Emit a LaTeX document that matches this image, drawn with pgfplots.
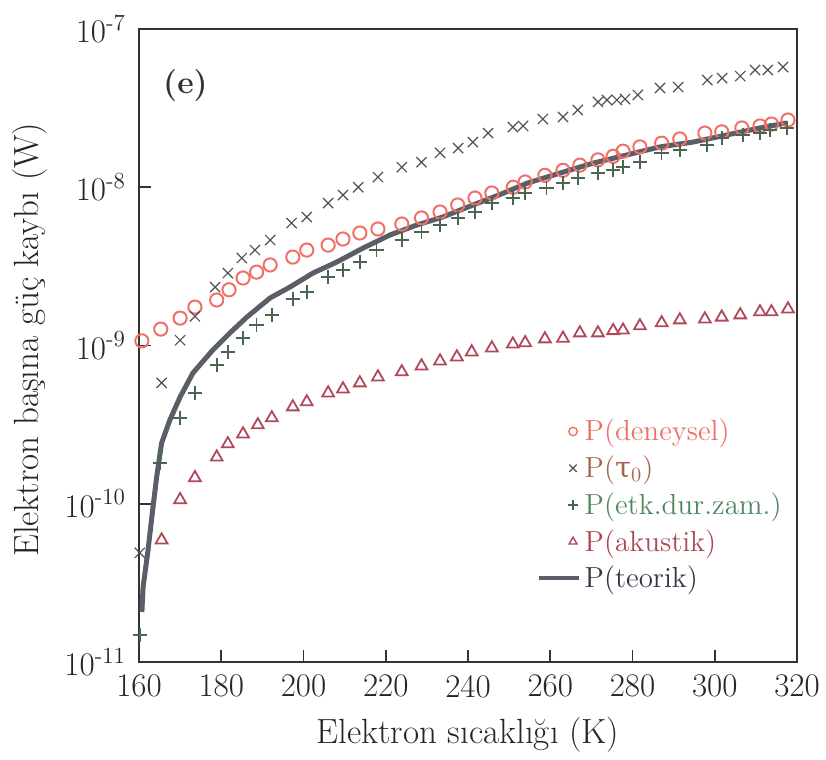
\documentclass[border=0pt]{standalone}
\usepackage{fontspec}
\newfontfamily\grk{DejaVu Serif}
\usepackage{pgfplots}
\pgfplotsset{compat=1.18}
\definecolor{cden}{HTML}{F07068}
\definecolor{ctau}{HTML}{505050}
\definecolor{cetk}{HTML}{4A6650}
\definecolor{caku}{HTML}{B04A5A}
\definecolor{cteo}{HTML}{5A5E66}
\definecolor{tden}{HTML}{EE6E64}
\definecolor{ttau}{HTML}{A8644E}
\definecolor{tetk}{HTML}{50875F}
\definecolor{taku}{HTML}{AF4655}
\definecolor{tteo}{HTML}{323746}
\pgfplotsset{
  legmarkA/.style={legend image code/.code={\draw[##1, mark size=2.1pt, line width=0.7pt] plot coordinates {(0.55cm,0cm)};}},
  legmarkB/.style={legend image code/.code={\draw[##1, mark size=2.6pt] plot coordinates {(0.55cm,0cm)};}},
  legmarkC/.style={legend image code/.code={\draw[##1, mark size=2.3pt, line width=0.7pt] plot coordinates {(0.55cm,0cm)};}},
  leglineD/.style={legend image code/.code={\draw[##1, line width=2pt] (-0.05cm,0cm) -- (0.65cm,0cm);}},
}
\begin{document}
\begin{tikzpicture}
\useasboundingbox (-69.5pt,-49pt) rectangle (343.5pt,331pt);
\begin{axis}[at={(0pt,0pt)}, anchor=south west, scale only axis,
  width=329pt, height=316.5pt,
  ymode=log, xmin=160, xmax=320, ymin=1e-11, ymax=1e-7,
  xtick={160,180,200,220,240,260,280,300,320},
  ytick={1e-11,1e-10,1e-9,1e-8,1e-7},
  yticklabels={10\textsuperscript{-11},10\textsuperscript{-10},10\textsuperscript{-9},10\textsuperscript{-8},10\textsuperscript{-7}},
  yminorticks=false,
  tick align=inside, tick pos=left, major tick length=6pt,
  axis line style={line width=1pt, color=black!80},
  every tick/.style={line width=0.8pt, black!80},
  tick label style={font=\fontsize{16.5}{19}\selectfont, color=black!85},
  /pgf/number format/assume math mode=true,
  xticklabel style={yshift=-3pt},
  yticklabel style={xshift=-3pt},
  xlabel={Elektron sıcaklığı (K)},
  ylabel={Elektron başına güç kaybı (W)},
  every axis x label/.style={at={(axis description cs:0.5,-0.115)}, anchor=center},
  every axis y label/.style={at={(axis description cs:-0.1657,0.509)}, rotate=90, anchor=center},
  label style={font=\fontsize{17.5}{20}\selectfont, color=black!85},
  legend style={at={(rel axis cs:0.595,0.397)}, anchor=north west, draw=none, fill=none,
    font=\fontsize{14.5}{18}\selectfont, row sep=2pt},
  legend cell align=left,
]
\addplot[only marks, mark=o, mark size=3.3pt, cden, line width=1pt, legmarkA]
  coordinates {
(160.7,1.07e-9) (165.3,1.27e-9) (170.0,1.49e-9) (173.6,1.75e-9) (178.9,1.94e-9)
(181.9,2.25e-9) (185.3,2.67e-9) (188.6,2.91e-9) (191.9,3.23e-9) (197.4,3.62e-9)
(200.8,4.01e-9) (206.0,4.31e-9) (209.6,4.71e-9) (213.7,5.14e-9) (218.1,5.45e-9)
(223.9,5.86e-9) (228.7,6.40e-9) (233.2,6.98e-9) (237.5,7.73e-9) (241.7,8.55e-9)
(245.8,9.2e-9) (251.0,1.00e-8) (253.9,1.08e-8) (258.7,1.19e-8) (263.1,1.28e-8)
(267.2,1.38e-8) (271.6,1.49e-8) (275.3,1.57e-8) (277.7,1.69e-8) (281.8,1.80e-8)
(287.1,1.90e-8) (291.5,2.02e-8) (297.6,2.20e-8) (301.7,2.24e-8) (306.6,2.37e-8)
(311.0,2.44e-8) (313.8,2.51e-8) (317.8,2.66e-8)
};
\addlegendentry{\textcolor{tden}{P(deneysel)}}
\addplot[only marks, mark=x, mark size=3.6pt, ctau, line width=0.6pt, legmarkB]
  coordinates {
(160.2,4.9e-11) (165.5,5.8e-10) (170.0,1.08e-9) (173.6,1.53e-9) (178.5,2.34e-9)
(181.6,2.87e-9) (185.0,3.57e-9) (188.2,4.01e-9) (191.9,4.64e-9) (197.1,5.94e-9)
(200.8,6.49e-9) (206.0,7.94e-9) (209.6,8.93e-9) (213.3,1.00e-8) (218.1,1.16e-8)
(223.9,1.34e-8) (228.7,1.44e-8) (233.2,1.65e-8) (237.6,1.77e-8) (241.2,1.93e-8)
(244.9,2.20e-8) (250.9,2.40e-8) (253.4,2.44e-8) (258.2,2.70e-8) (263.1,2.78e-8)
(266.7,3.08e-8) (271.6,3.46e-8) (273.8,3.56e-8) (276.2,3.56e-8) (278.2,3.61e-8)
(281.3,3.83e-8) (286.7,4.24e-8) (291.1,4.30e-8) (298.2,4.76e-8) (301.8,4.90e-8)
(306.2,5.04e-8) (309.8,5.51e-8) (312.9,5.51e-8) (316.6,5.75e-8)
};
\addlegendentry{\textcolor{ttau}{P({\grk τ}\textsubscript{0})}}
\addplot[only marks, mark=+, mark size=3.6pt, cetk, line width=0.8pt, legmarkB]
  coordinates {
(160.2,1.48e-11) (165.1,1.81e-10) (170.0,3.49e-10) (173.6,5.01e-10) (178.9,7.54e-10)
(181.6,9.10e-10) (185.3,1.12e-9) (188.6,1.35e-9) (192.3,1.56e-9) (197.4,1.97e-9)
(200.8,2.18e-9) (206.0,2.71e-9) (209.6,3.00e-9) (213.7,3.37e-9) (217.8,4.01e-9)
(223.9,4.64e-9) (228.7,5.21e-9) (233.2,5.77e-9) (237.6,6.40e-9) (241.7,6.98e-9)
(245.8,7.94e-9) (250.9,8.55e-9) (253.9,9.2e-9) (259.1,9.9e-9) (263.1,1.06e-8)
(266.7,1.14e-8) (271.6,1.23e-8) (275.3,1.29e-8) (277.7,1.34e-8) (281.8,1.44e-8)
(287.1,1.65e-8) (291.5,1.72e-8) (298.1,1.85e-8) (301.7,2.05e-8) (306.9,2.14e-8)
(311.0,2.20e-8) (313.4,2.30e-8) (317.6,2.37e-8)
};
\addlegendentry{\textcolor{tetk}{P(etk.dur.zam.)}}
\addplot[only marks, mark=triangle, mark size=3.4pt, caku, line width=0.9pt, legmarkC]
  coordinates {
(165.5,5.9e-11) (170.0,1.06e-10) (173.6,1.46e-10) (178.9,1.97e-10) (181.6,2.39e-10)
(185.3,2.76e-10) (188.9,3.15e-10) (192.3,3.49e-10) (197.4,4.09e-10) (200.8,4.40e-10)
(206.0,5.01e-10) (209.6,5.31e-10) (213.7,5.80e-10) (218.1,6.32e-10) (223.9,6.81e-10)
(228.7,7.42e-10) (233.2,7.98e-10) (237.3,8.46e-10) (240.9,9.10e-10) (245.8,9.64e-10)
(250.9,1.02e-9) (253.9,1.04e-9) (258.7,1.10e-9) (263.1,1.11e-9) (267.2,1.20e-9)
(271.6,1.20e-9) (275.3,1.24e-9) (277.7,1.25e-9) (281.8,1.33e-9) (287.1,1.39e-9)
(291.5,1.45e-9) (297.6,1.47e-9) (301.7,1.51e-9) (306.2,1.56e-9) (311.0,1.63e-9)
(313.8,1.63e-9) (317.8,1.70e-9)
};
\addlegendentry{\textcolor{taku}{P(akustik)}}
\addplot[no marks, cteo, line width=2.5pt, leglineD]
  coordinates {
(160.7,2.07e-11) (161.0,2.98e-11) (162.2,5.1e-11) (163.4,9.5e-11) (164.3,1.48e-10)
(165.5,2.42e-10) (167.5,3.38e-10) (170.0,4.73e-10) (173.1,6.7e-10) (178.0,9.4e-10)
(182.1,1.20e-9) (186.2,1.51e-9) (191.9,2.00e-9) (196.7,2.34e-9) (202.3,2.87e-9)
(208.1,3.37e-9) (214.5,4.13e-9) (221.0,4.99e-9) (227.5,5.77e-9) (233.9,6.49e-9)
(240.5,7.6e-9) (247.8,9.0e-9) (254.3,1.06e-8) (262.4,1.23e-8) (270.4,1.42e-8)
(278.6,1.60e-8) (286.7,1.80e-8) (294.7,1.93e-8) (302.9,2.14e-8) (311.0,2.37e-8)
(317.5,2.55e-8)
};
\addlegendentry{\textcolor{tteo}{P(teorik)}}
\node[font=\bfseries\fontsize{16}{19}\selectfont, color=black!80] at (axis cs:171.3,4.4e-8) {(e)};
\end{axis}
\end{tikzpicture}
\end{document}
